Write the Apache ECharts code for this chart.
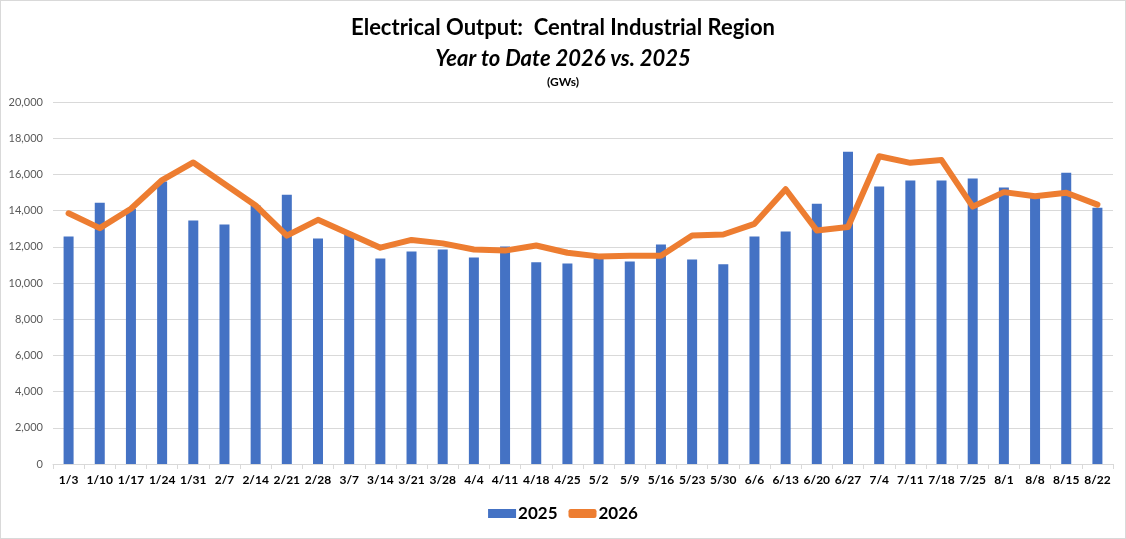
<!DOCTYPE html>
<html>
<head>
<meta charset="utf-8">
<script src="https://cdn.jsdelivr.net/npm/echarts@6/dist/echarts.min.js"></script>
<style>
  html, body { margin: 0; padding: 0; background: #fff; }
  #chart { width: 1124px; height: 537px; border: 1px solid #d9d9d9; }
</style>
</head>
<body>
<div id="chart"></div>
<script>
const weeks = ["1/3","1/10","1/17","1/24","1/31","2/7","2/14","2/21","2/28","3/7","3/14","3/21","3/28","4/4","4/11","4/18","4/25","5/2","5/9","5/16","5/23","5/30","6/6","6/13","6/20","6/27","7/4","7/11","7/18","7/25","8/1","8/8","8/15","8/22"];
const output2025 = [12570,14440,14100,15610,13450,13230,14280,14880,12460,12730,11360,11740,11850,11410,12015,11140,11080,11380,11190,12130,11300,11030,12570,12840,14380,17250,15330,15660,15660,15770,15270,14750,16090,14160];
const output2026 = [13850,13030,14100,15690,16660,15470,14280,12620,13490,12720,11950,12380,12190,11850,11790,12070,11670,11470,11510,11510,12620,12680,13270,15180,12900,13090,17000,16640,16790,14220,15020,14790,14990,14330];

const font = "Lato, 'Open Sans', sans-serif";

window.onload = () => {
    const chart = echarts.init(document.querySelector("#chart"));
    chart.setOption({
        animation: false,
        textStyle: { fontFamily: font },
        title: [
            { text: "Electrical Output:  Central Industrial Region", left: "center", top: 11,
              textStyle: { fontFamily: font, fontSize: 22, fontWeight: "bold", color: "#000" } },
            { text: "Year to Date 2026 vs. 2025", left: "center", top: 42,
              textStyle: { fontFamily: font, fontSize: 22, fontWeight: "bold", fontStyle: "italic", color: "#000" } },
            { text: "(GWs)", left: "center", top: 70,
              textStyle: { fontFamily: font, fontSize: 12, fontWeight: "bold", color: "#000" } }
        ],
        legend: {
            bottom: 11,
            left: "center",
            itemGap: 11,
            itemWidth: 28,
            itemHeight: 9,
            textStyle: { fontFamily: font, fontSize: 17, fontWeight: "bold", color: "#000", padding: [0, 0, 0, -3] },
            data: [
                { name: "2025", icon: "rect" },
                { name: "2026", icon: "roundRect", itemStyle: { color: "#ED7D31" } }
            ]
        },
        grid: { left: 52, right: 12, top: 101, bottom: 74 },
        xAxis: {
            type: "category",
            data: weeks,
            axisLine: { lineStyle: { color: "#d9d9d9" } },
            axisTick: { show: true, length: 5, lineStyle: { color: "#d9d9d9" } },
            axisLabel: { interval: 0, margin: 10, fontFamily: font, fontSize: 12, fontWeight: "bold", color: "#000" }
        },
        yAxis: {
            type: "value",
            min: 0,
            max: 20000,
            interval: 2000,
            axisLine: { show: false },
            axisTick: { show: false },
            splitLine: { lineStyle: { color: "#d9d9d9" } },
            axisLabel: {
                margin: 10, fontFamily: font, fontSize: 11, color: "#595959",
                formatter: v => v.toLocaleString("en-US")
            }
        },
        series: [
            {
                name: "2025",
                type: "bar",
                data: output2025,
                barWidth: 10,
                itemStyle: { color: "#4472C4" }
            },
            {
                name: "2026",
                type: "line",
                data: output2026,
                symbol: "none",
                lineStyle: { color: "#ED7D31", width: 6, join: "round", cap: "round" },
                itemStyle: { color: "#ED7D31" }
            }
        ]
    });
};
</script>
</body>
</html>
